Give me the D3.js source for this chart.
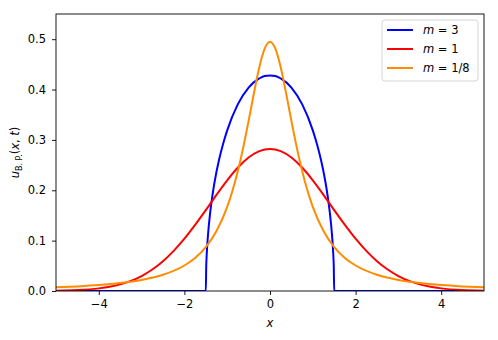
<!DOCTYPE html>
<html>
<head>
<meta charset="utf-8">
<script src="https://cdn.jsdelivr.net/npm/d3@7"></script>
<style>
  body { margin: 0; background: #fff; }
  text { font-family: "DejaVu Sans", sans-serif; }
</style>
</head>
<body>
<svg id="chart" width="498" height="340"></svg>
<script>
// values
const xM3 = [-5, -1.75, -1.5, -1.49, -1.48, -1.45, -1.4, -1.35, -1.3, -1.2, -1.1, -1.0, -0.75, -0.5, -0.25, -0.125, 0,
  0.125, 0.25, 0.5, 0.75, 1.0, 1.1, 1.2, 1.3, 1.35, 1.4, 1.45, 1.48, 1.49, 1.5, 1.75, 5];
const uM3 = [0, 0, 0, 0.049, 0.070, 0.110, 0.154, 0.187, 0.214, 0.257, 0.291, 0.319, 0.371, 0.404, 0.422, 0.427, 0.428,
  0.427, 0.422, 0.404, 0.371, 0.319, 0.291, 0.257, 0.214, 0.187, 0.154, 0.110, 0.070, 0.049, 0, 0, 0];

const xM1 = [-5, -4.5, -4, -3.75, -3.5, -3.25, -3, -2.75, -2.5, -2.25, -2, -1.75, -1.5, -1.25, -1, -0.75, -0.5, -0.25, 0,
  0.25, 0.5, 0.75, 1, 1.25, 1.5, 1.75, 2, 2.25, 2.5, 2.75, 3, 3.25, 3.5, 3.75, 4, 4.5, 5];
const uM1 = [0.0005, 0.0018, 0.0052, 0.0084, 0.0132, 0.0201, 0.0297, 0.0426, 0.0591, 0.0796, 0.1038, 0.1312, 0.1607,
  0.1909, 0.2197, 0.2451, 0.2650, 0.2777, 0.2821, 0.2777, 0.2650, 0.2451, 0.2197, 0.1909, 0.1607, 0.1312, 0.1038,
  0.0796, 0.0591, 0.0426, 0.0297, 0.0201, 0.0132, 0.0084, 0.0052, 0.0018, 0.0005];

const xM18 = [-5, -4.5, -4, -3.5, -3, -2.5, -2, -1.75, -1.5, -1.25, -1, -0.875, -0.75, -0.625, -0.5, -0.375, -0.25, -0.125, 0,
  0.125, 0.25, 0.375, 0.5, 0.625, 0.75, 0.875, 1, 1.25, 1.5, 1.75, 2, 2.5, 3, 3.5, 4, 4.5, 5];
const uM18 = [0.0072, 0.0091, 0.0117, 0.0157, 0.0219, 0.0322, 0.0506, 0.0656, 0.0871, 0.1190, 0.1670, 0.1994, 0.2387,
  0.2852, 0.3378, 0.3931, 0.4443, 0.4813, 0.495, 0.4813, 0.4443, 0.3931, 0.3378, 0.2852, 0.2387, 0.1994, 0.1670,
  0.1190, 0.0871, 0.0656, 0.0506, 0.0322, 0.0219, 0.0157, 0.0117, 0.0091, 0.0072];

const seriesLabels = ["3", "1", "1/8"];
const seriesColors = ["#0000ff", "#ff0000", "#ff8c00"];
const xTicks = [-4, -2, 0, 2, 4];
const yTicks = [0, 0.1, 0.2, 0.3, 0.4, 0.5];

const series = [
  { label: seriesLabels[0], color: seriesColors[0], xs: xM3, us: uM3 },
  { label: seriesLabels[1], color: seriesColors[1], xs: xM1, us: uM1 },
  { label: seriesLabels[2], color: seriesColors[2], xs: xM18, us: uM18 }
];

const svg = d3.select("#chart");
const margin = { top: 14, right: 14, bottom: 49, left: 56 };
const width = 498 - margin.left - margin.right;
const height = 340 - margin.top - margin.bottom;

const g = svg.append("g")
  .attr("transform", `translate(${margin.left},${margin.top})`);

const x = d3.scaleLinear().domain([-5, 5]).range([0, width]);
const y = d3.scaleLinear().domain([0, 0.55]).range([height, 0]);

g.append("defs").append("clipPath").attr("id", "clip")
  .append("rect").attr("width", width).attr("height", height);

const line = d3.line()
  .x(d => x(d[0]))
  .y(d => y(d[1]))
  .curve(d3.curveMonotoneX);

g.append("g").attr("clip-path", "url(#clip)")
  .selectAll("path")
  .data(series)
  .enter()
  .append("path")
  .attr("d", s => line(s.xs.map((v, i) => [v, s.us[i]])))
  .attr("fill", "none")
  .attr("stroke", s => s.color)
  .attr("stroke-width", 2);

const xAxis = g.append("g")
  .attr("transform", `translate(0,${height})`)
  .call(d3.axisBottom(x).tickValues(xTicks).tickSize(4).tickPadding(5)
    .tickFormat(d => d < 0 ? "\u2212" + Math.abs(d) : d));

const yAxis = g.append("g")
  .call(d3.axisLeft(y).tickValues(yTicks).tickSize(4).tickPadding(6).tickFormat(d3.format(".1f")));

[xAxis, yAxis].forEach(a => {
  a.select(".domain").remove();
  a.selectAll("line").attr("stroke", "#000").attr("stroke-width", 0.9);
  a.selectAll("text").attr("fill", "#000").style("font-size", "11.5px");
});

g.append("rect")
  .attr("width", width)
  .attr("height", height)
  .attr("fill", "none")
  .attr("stroke", "#000")
  .attr("stroke-width", 0.9);

// axis labels
svg.append("text")
  .attr("x", margin.left + width / 2)
  .attr("y", 327)
  .attr("text-anchor", "middle")
  .style("font-size", "11.5px")
  .style("font-style", "italic")
  .text("x");

const yl = svg.append("text")
  .attr("transform", `translate(19,${margin.top + height / 2}) rotate(-90)`)
  .attr("text-anchor", "middle")
  .style("font-size", "11.5px");
yl.append("tspan").style("font-style", "italic").text("u");
yl.append("tspan").attr("dy", 3).style("font-size", "8px").text("B. P.");
yl.append("tspan").attr("dy", -3).text("(");
yl.append("tspan").style("font-style", "italic").text("x");
yl.append("tspan").text(", ");
yl.append("tspan").style("font-style", "italic").text("t");
yl.append("tspan").text(")");

// legend
const legend = svg.append("g").attr("transform", "translate(382,20)");
legend.append("rect")
  .attr("width", 96)
  .attr("height", 61)
  .attr("rx", 3)
  .attr("fill", "#fff")
  .attr("fill-opacity", 0.8)
  .attr("stroke", "#d6d6d6");

series.forEach((s, i) => {
  const ly = 10 + i * 19;
  legend.append("line")
    .attr("x1", 5).attr("x2", 31)
    .attr("y1", ly).attr("y2", ly)
    .attr("stroke", s.color)
    .attr("stroke-width", 2);
  const t = legend.append("text")
    .attr("x", 41)
    .attr("y", ly + 4)
    .style("font-size", "11.5px");
  t.append("tspan").style("font-style", "italic").text("m");
  t.append("tspan").text(" = " + s.label);
});
</script>
</body>
</html>
